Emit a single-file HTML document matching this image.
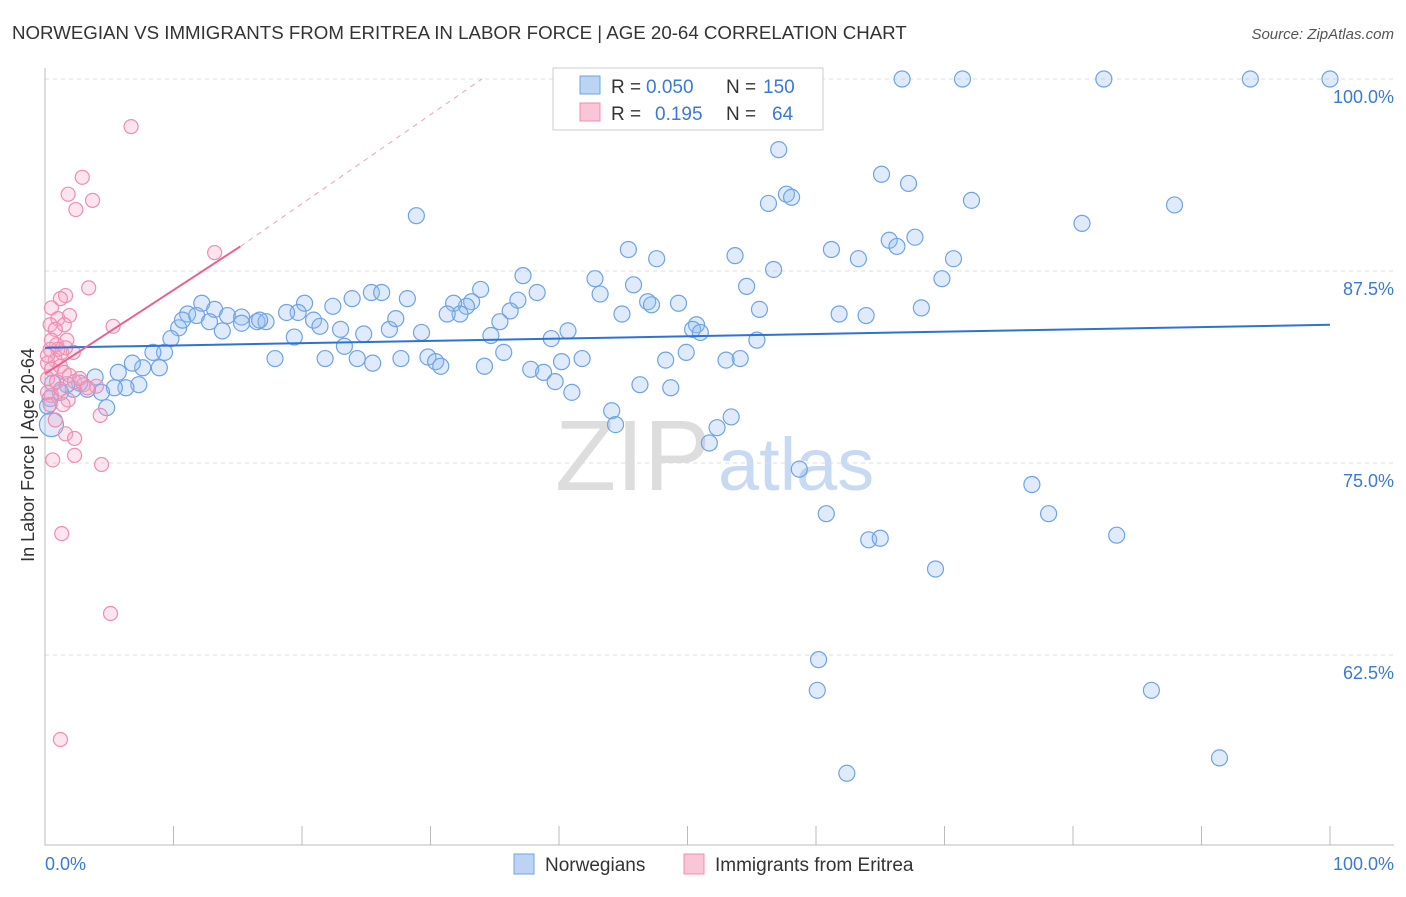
<!DOCTYPE html>
<html><head><meta charset="utf-8"><style>
body{margin:0;background:#fff;font-family:"Liberation Sans",sans-serif;}
svg text{font-family:"Liberation Sans",sans-serif;}
</style></head><body>
<svg id="chart" width="1406" height="892">
<text x="12" y="39" font-size="18.7" fill="#333">NORWEGIAN VS IMMIGRANTS FROM ERITREA IN LABOR FORCE | AGE 20-64 CORRELATION CHART</text>
<text x="1394" y="39" font-size="15" fill="#555" text-anchor="end" font-style="italic">Source: ZipAtlas.com</text>
<text x="555" y="490" font-size="100" fill="#ddd" font-family="Liberation Serif">ZIP</text>
<text x="718" y="490" font-size="74" fill="#c8daf2">atlas</text>
<g id="grid"></g>
<g id="axes"></g>
<g id="pts"></g>
<g id="trend"></g>
<text transform="translate(34,455) rotate(-90)" font-size="18" fill="#333" text-anchor="middle">In Labor Force | Age 20-64</text>
<text x="45" y="870" font-size="18" fill="#3b78d8">0.0%</text>
<text x="1394" y="870" font-size="18" fill="#3b78d8" text-anchor="end">100.0%</text>
<g>
<rect x="553" y="68" width="270" height="62" fill="#fff" stroke="#ccc"/>
<rect x="580" y="76" width="20" height="18" fill="#bcd3f3" stroke="#6fa3e6"/>
<rect x="580" y="103" width="20" height="18" fill="#f9c6d7" stroke="#f08db0"/>
<text x="611" y="93" font-size="19" fill="#333">R =</text>
<text x="646" y="93" font-size="19" fill="#3b78d8">0.050</text>
<text x="726" y="93" font-size="19" fill="#333">N =</text>
<text x="763" y="93" font-size="19" fill="#3b78d8">150</text>
<text x="611" y="120" font-size="19" fill="#333">R =</text>
<text x="655" y="120" font-size="19" fill="#3b78d8">0.195</text>
<text x="726" y="120" font-size="19" fill="#333">N =</text>
<text x="772" y="120" font-size="19" fill="#3b78d8">64</text>
</g>
<g>
<rect x="514" y="854" width="20" height="20" fill="#bcd3f3" stroke="#6fa3e6"/>
<text x="545" y="871" font-size="19" fill="#333">Norwegians</text>
<rect x="684" y="854" width="20" height="20" fill="#f9c6d7" stroke="#f08db0"/>
<text x="715" y="871" font-size="19" fill="#333">Immigrants from Eritrea</text>
</g>
</svg>
<script>
const yTicks=[100,87.5,75,62.5];
const yTickLabels=["100.0%","87.5%","75.0%","62.5%"];
const xTicks=[0,10,20,30,40,50,60,70,80,90,100];
const blueX=[66.7,71.4,82.4,93.8,100,57.1,57.7,58.1,56.3,65.1,67.2,72.1,87.9,80.7,28.9,45.4,47.6,53.7,61.2,63.3,65.7,66.3,67.7,70.7,69.8,56.7,54.6,55.6,61.8,63.9,68.2,37.2,42.8,43.2,45.8,46.9,47.2,44.9,49.3,50.7,49.9,50.4,51.0,55.4,54.1,53.0,48.3,48.7,46.3,44.1,44.4,51.7,52.3,53.4,58.7,60.8,64.1,65.0,69.3,76.8,78.1,83.4,60.2,60.1,86.1,62.4,91.4,33.9,38.3,36.8,36.2,33.2,32.8,31.8,32.3,31.3,34.7,35.4,35.7,34.2,37.8,38.8,39.7,41.0,40.2,41.8,39.4,40.7,25.4,26.2,28.2,23.9,22.4,20.2,19.7,18.8,20.9,21.4,23.0,24.8,26.8,27.3,29.3,23.3,21.8,24.3,25.5,27.7,29.8,30.4,30.8,17.9,19.4,11.1,12.2,11.8,13.2,14.2,15.3,16.5,17.2,15.3,16.7,13.8,12.8,10.4,10.7,9.8,9.3,8.4,8.9,7.6,5.7,6.8,7.3,6.3,5.4,4.4,4.8,3.3,3.9,2.7,2.2,1.7,1.2,0.6,0.4,0.2,0.5];
const blueY=[100,100,100,100,100,95.4,92.5,92.3,91.9,93.8,93.2,92.1,91.8,90.6,91.1,88.9,88.3,88.5,88.9,88.3,89.5,89.1,89.7,88.3,87.0,87.6,86.5,85.0,84.7,84.6,85.1,87.2,87.0,86.0,86.6,85.5,85.3,84.7,85.4,84.0,82.2,83.7,83.5,83.0,81.8,81.7,81.7,79.9,80.1,78.4,77.5,76.3,77.3,78.0,74.6,71.7,70.0,70.1,68.1,73.6,71.7,70.3,62.2,60.2,60.2,54.8,55.8,86.3,86.1,85.6,84.9,85.5,85.2,85.4,84.7,84.7,83.3,84.2,82.2,81.3,81.1,80.9,80.3,79.6,81.6,81.8,83.1,83.6,86.1,86.1,85.7,85.7,85.2,85.4,84.8,84.8,84.3,83.9,83.7,83.4,83.7,84.4,83.5,82.6,81.8,81.8,81.5,81.8,81.9,81.6,81.3,81.8,83.2,84.7,85.4,84.6,85.0,84.6,84.5,84.2,84.2,84.1,84.3,83.6,84.2,83.8,84.3,83.1,82.2,82.2,81.2,81.2,80.9,81.5,80.1,79.9,79.9,79.6,78.6,79.8,80.6,80.2,79.8,80.1,79.6,80.2,79.2,78.7,77.5];
const pinkX=[6.7,2.9,1.8,3.7,2.4,13.2,3.4,1.6,1.2,0.5,1.9,1.0,1.5,0.4,0.8,5.3,1.7,0.9,0.4,1.3,2.2,0.8,0.2,1.2,0.5,1.5,1.9,0.2,0.9,2.3,3.0,4.0,1.2,0.5,1.8,1.4,4.3,0.8,1.6,2.3,0.6,2.3,4.4,1.3,5.1,1.2,2.7,3.3,0.2,0.4,1.0,1.6,0.5,0.2];
const pinkY=[96.9,93.6,92.5,92.1,91.5,88.7,86.4,85.9,85.7,85.1,84.6,84.4,84.0,84.0,83.7,83.9,83.0,82.7,82.4,82.2,82.2,81.7,81.5,81.3,81.1,80.9,80.7,80.5,80.3,80.3,80.1,80.0,79.8,79.4,79.1,78.8,78.1,77.8,76.9,76.6,75.2,75.5,74.9,70.4,65.2,57.0,80.5,79.9,79.6,78.8,82.4,82.5,83.0,82.0];
const blueTrend=[[0,82.5],[100,84.0]];
const pinkTrend=[[0,80.8],[15.2,89.1]];
const pinkDash=[[15.2,89.1],[34,100]];
const NS='http://www.w3.org/2000/svg';
const X=v=>45+v*12.85, Y=v=>79+(100-v)*15.36;
function mk(tag,attrs,parent){const e=document.createElementNS(NS,tag);for(const k in attrs)e.setAttribute(k,attrs[k]);parent.appendChild(e);return e;}
const grid=document.getElementById('grid'),axes=document.getElementById('axes'),pts=document.getElementById('pts'),tr=document.getElementById('trend');
yTicks.forEach((t,i)=>{
 const l=mk('line',{x1:45,x2:1394,y1:Y(t),y2:Y(t),stroke:'#ddd','stroke-dasharray':'4,4'},grid);
 
 
 const tx=mk('text',{x:1394,y:Y(t)+24,'font-size':18,fill:'#3b78d8','text-anchor':'end'},grid);
 tx.textContent=yTickLabels[i];
 
 
});
const ax=mk('path',{d:'M45 68 V845 H1394',stroke:'#bbb',fill:'none'},axes);


xTicks.forEach(t=>{
 const l=mk('line',{x1:X(t),x2:X(t),y1:826,y2:845,stroke:'#bbb'},axes);
 
 
});
blueX.forEach((v,i)=>{
 const c=mk('circle',{cx:X(v),cy:Y(blueY[i]),r:(i===blueX.length-1?12:8),fill:'rgba(150,190,240,0.3)',stroke:'#6fa3e6','stroke-width':1.2},pts);
 
 
});
pinkX.forEach((v,i)=>{
 const c=mk('circle',{cx:X(v),cy:Y(pinkY[i]),r:7,fill:'rgba(245,170,200,0.3)',stroke:'#f08db0','stroke-width':1.2},pts);
 
 
});
const bt=mk('line',{x1:X(blueTrend[0][0]),y1:Y(blueTrend[0][1]),x2:X(blueTrend[1][0]),y2:Y(blueTrend[1][1]),stroke:'#2f72d6','stroke-width':2},tr);


const pt=mk('line',{x1:X(pinkTrend[0][0]),y1:Y(pinkTrend[0][1]),x2:X(pinkTrend[1][0]),y2:Y(pinkTrend[1][1]),stroke:'#e8638f','stroke-width':2},tr);


const pd=mk('line',{x1:X(pinkDash[0][0]),y1:Y(pinkDash[0][1]),x2:X(pinkDash[1][0]),y2:Y(pinkDash[1][1]),stroke:'#f0a0bb','stroke-width':1,'stroke-dasharray':'5,5'},tr);


</script>
</body></html>
